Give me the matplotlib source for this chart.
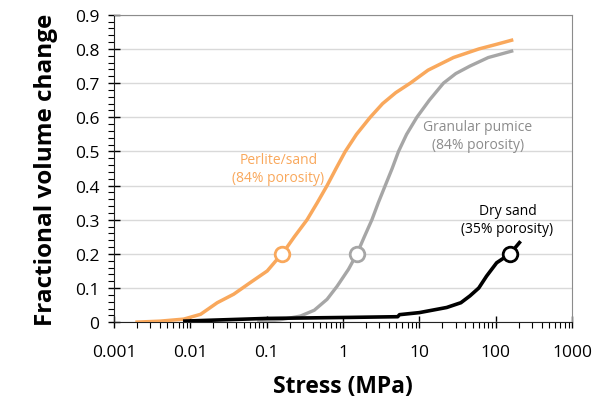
import matplotlib.pyplot as plt
from matplotlib.ticker import LogLocator, NullFormatter, MultipleLocator

plt.rcParams['font.family'] = ['Open Sans', 'DejaVu Sans']

# perlite/sand (84% porosity)
perlite_x = [0.0019, 0.004, 0.0082, 0.0136, 0.0225, 0.037, 0.061, 0.1016, 0.137, 0.16,
             0.23, 0.338, 0.46, 0.618, 0.81, 1.07, 1.5, 2.27, 3.3, 4.9, 7.6, 13.0, 28.0, 60.0, 100.0, 170.0]
perlite_y = [0.0, 0.003, 0.009, 0.023, 0.057, 0.082, 0.116, 0.15, 0.184, 0.2,
             0.25, 0.3, 0.35, 0.4, 0.45, 0.5, 0.55, 0.6, 0.64, 0.672, 0.7, 0.738, 0.775, 0.8, 0.813, 0.827]

# granular pumice (84% porosity)
pumice_x = [0.075, 0.15, 0.277, 0.42, 0.618, 0.835, 1.18, 1.52, 1.9, 2.39, 2.9, 3.57, 4.4, 5.33,
            6.8, 9.27, 13.5, 20.7, 30.0, 46.0, 80.0, 170.0]
pumice_y = [0.0, 0.007, 0.018, 0.035, 0.067, 0.105, 0.155, 0.2, 0.25, 0.3, 0.35, 0.4, 0.45, 0.5,
            0.55, 0.6, 0.65, 0.7, 0.728, 0.75, 0.775, 0.795]

# dry sand (35% porosity)
sand_x = [0.008, 0.02, 0.1, 1.25, 5.2, 5.5, 10.0, 22.8, 35.0, 46.0, 60.0, 76.0, 103.0, 154.0, 212.0]
sand_y = [0.003, 0.006, 0.011, 0.014, 0.016, 0.022, 0.028, 0.043, 0.057, 0.077, 0.1, 0.135, 0.174, 0.2, 0.237]

# open circle markers at 0.2
mark_x = [0.16, 1.52, 154.0]
mark_y = [0.2, 0.2, 0.2]

orange = '#F9A85C'
grey = '#A6A6A6'

fig = plt.figure(figsize=(5.94, 4.06), dpi=100)
ax = fig.add_axes([0.192, 0.204, 0.771, 0.757])

ax.plot(perlite_x, perlite_y, color=orange, lw=2.5, solid_capstyle='butt', solid_joinstyle='round', zorder=3)
ax.plot(pumice_x, pumice_y, color=grey, lw=2.4, solid_capstyle='butt', solid_joinstyle='round', zorder=3)
ax.plot(sand_x, sand_y, color='black', lw=2.6, solid_capstyle='butt', solid_joinstyle='round', zorder=3)
for mx, my, c in zip(mark_x, mark_y, [orange, grey, 'black']):
    ax.plot(mx, my, 'o', ms=10.5, mfc='white', mec=c, mew=2, zorder=4)

ax.set_xscale('log')
ax.set_xlim(0.001, 1000)
ax.set_ylim(0, 0.9)
ax.set_xticks([0.001, 0.01, 0.1, 1, 10, 100, 1000])
ax.set_xticklabels(['0.001', '0.01', '0.1', '1', '10', '100', '1000'])
ax.xaxis.set_minor_locator(LogLocator(base=10, subs=range(2, 10), numticks=20))
ax.xaxis.set_minor_formatter(NullFormatter())
yt = [i / 10 for i in range(10)]
ax.set_yticks(yt)
ax.set_yticklabels(['0'] + ['%.1f' % v for v in yt[1:]])
ax.yaxis.set_minor_locator(MultipleLocator(0.02))

ax.tick_params(which='major', direction='inout', length=9, width=1, labelsize=12.5)
ax.tick_params(which='minor', direction='out', length=4, width=0.8)
ax.tick_params(axis='x', which='major', pad=11)
ax.tick_params(axis='y', which='major', pad=6)

ax.grid(axis='y', which='major', color='#D9D9D9', lw=1)
ax.set_axisbelow(True)
for s in ['left', 'bottom']:
    ax.spines[s].set_color('#222222')
for s in ['top', 'right']:
    ax.spines[s].set_color('#8C8C8C')

ax.set_xlabel('Stress (MPa)', fontsize=16.5, fontweight='bold', labelpad=10)
ax.set_ylabel('Fractional volume change', fontsize=17.5, fontweight='bold', labelpad=12)

ax.text(0.142, 0.45, 'Perlite/sand\n(84% porosity)', color=orange, fontsize=10,
        ha='center', va='center', linespacing=1.3)
ax.text(58, 0.546, 'Granular pumice\n(84% porosity)', color='#8C8C8C', fontsize=10,
        ha='center', va='center', linespacing=1.3)
ax.text(143, 0.30, 'Dry sand\n(35% porosity)', color='black', fontsize=10,
        ha='center', va='center', linespacing=1.3)

fig.savefig('out.png', dpi=100)
